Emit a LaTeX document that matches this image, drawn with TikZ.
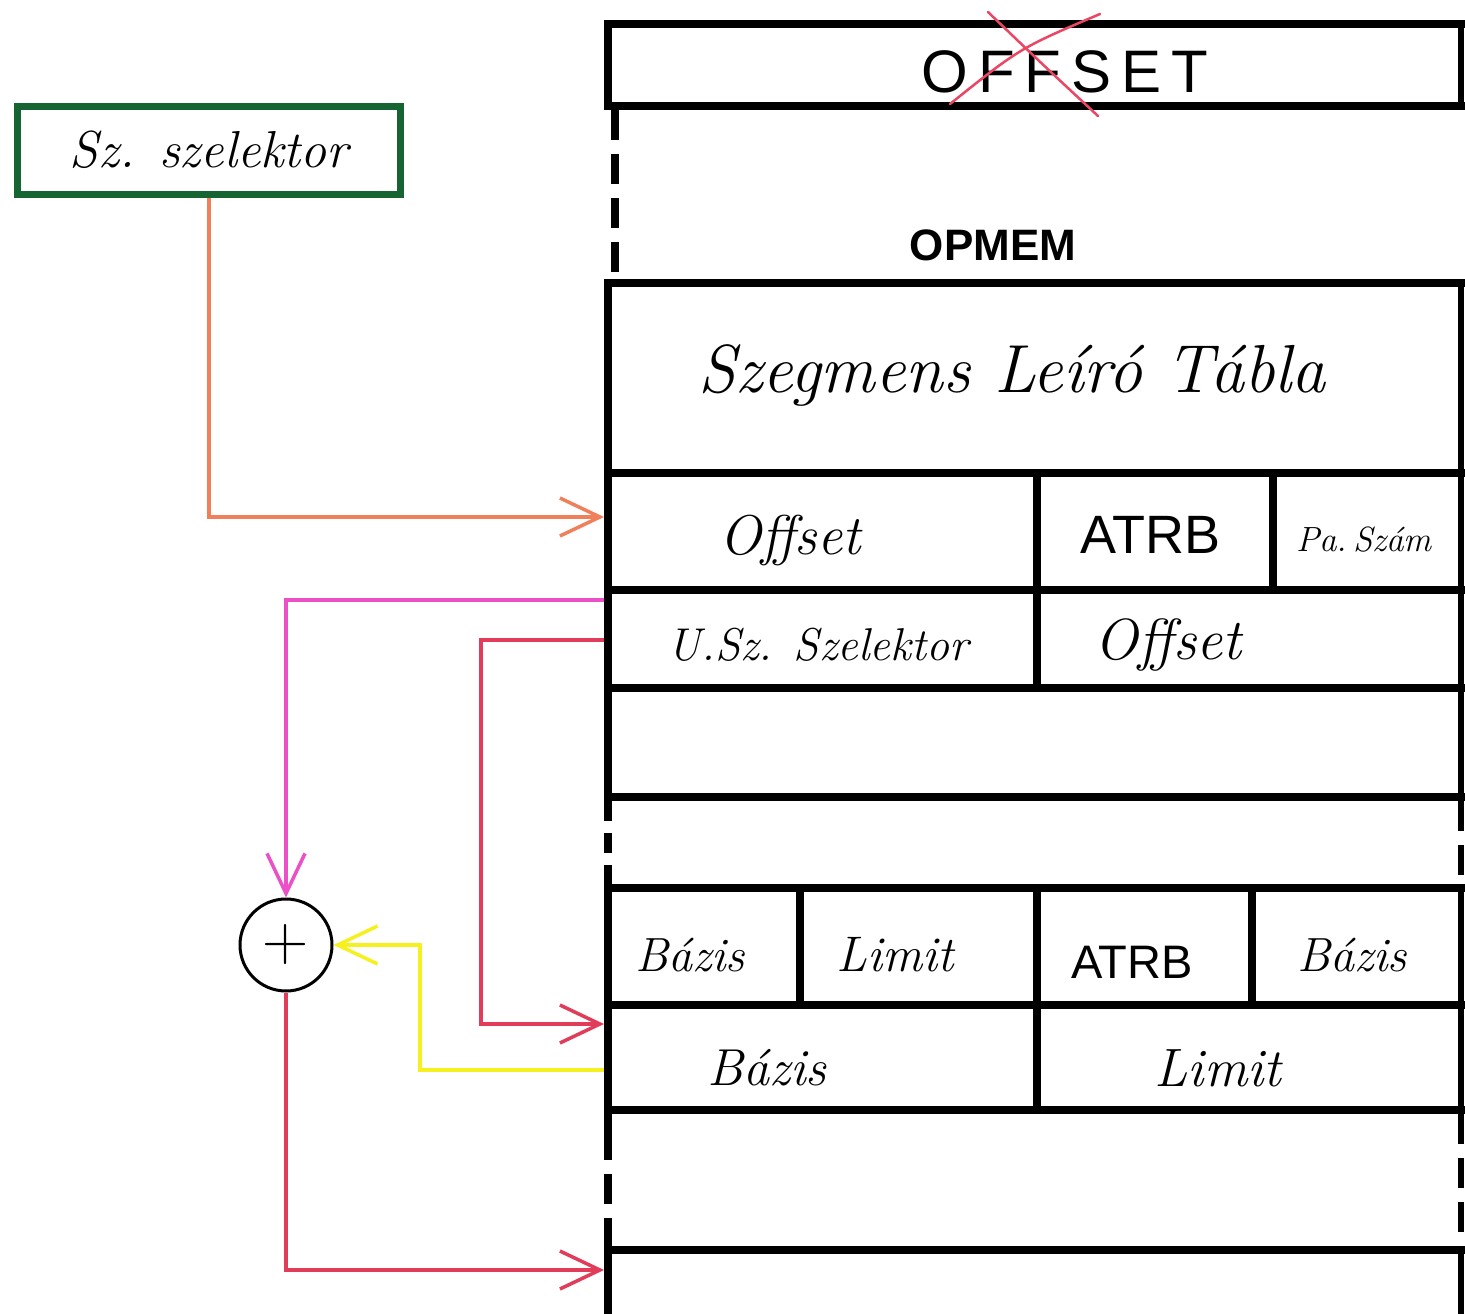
\documentclass[tikz,border=0pt]{standalone}
\usepackage{fontspec}
\newfontfamily\capsf{Liberation Sans}
\usetikzlibrary{arrows.meta}
\definecolor{selgreen}{RGB}{22,100,50}
\definecolor{orline}{RGB}{240,128,90}
\definecolor{mgline}{RGB}{235,80,200}
\definecolor{rdline}{RGB}{225,60,90}
\definecolor{ylline}{RGB}{245,240,30}
\definecolor{xred}{RGB}{235,70,100}
\newcommand\myfs[1]{\fontsize{#1}{#1}\selectfont}
\tikzset{
  memline/.style={line width=8pt},
  memdash/.style={line width=8pt, dash pattern=on 30pt off 14pt},
  divline/.style={line width=8pt},
  conn/.style={line width=3.5pt, -{Straight Barb[length=40pt,width=38pt,line width=3.5pt]}},
  hand/.style={font=\itshape, inner sep=0pt},
  blockcaps/.style={font=\capsf, inner sep=0pt},
}
\begin{document}
\begin{tikzpicture}[x=1pt,y=-1pt]
\useasboundingbox (0,0) rectangle (1465,1314);
\fill[white] (0,0) rectangle (1465,1314);

% horizontal lines of memory
\foreach \yy in {24,106,283,473,590,688,797,888,1005,1110,1250}
  \draw[memline] (604,\yy) -- (1465,\yy);

% left edge
\draw[memline] (608,20) -- (608,110);
\draw[memdash] (615,110) -- (615,283);
\draw[memline] (608,279) -- (608,801);
\draw[memline, dash pattern=on 20pt off 12pt] (608,801) -- (608,888);
\draw[memline] (608,884) -- (608,1130);
\draw[memdash] (608,1130) -- (608,1250);
\draw[memline] (608,1246) -- (608,1314);

% right edge
\draw[line width=6pt] (1461,20) -- (1461,110);
\draw[line width=6pt] (1461,279) -- (1461,801);
\draw[line width=6pt, dash pattern=on 30pt off 14pt] (1461,801) -- (1461,888);
\draw[line width=6pt] (1461,884) -- (1461,1114);
\draw[line width=6pt, dash pattern=on 30pt off 14pt] (1461,1114) -- (1461,1250);
\draw[line width=6pt] (1461,1246) -- (1461,1314);

% vertical dividers
\draw[divline] (1037,473) -- (1037,688);
\draw[divline] (1273,473) -- (1273,590);
\draw[divline] (800,888) -- (800,1005);
\draw[divline] (1037,888) -- (1037,1110);
\draw[divline] (1252,888) -- (1252,1005);

% texts in memory
\node[blockcaps] (toff) at (1065,72) {\myfs{60}O\,F\,F\,S\,E\,T};
\draw[xred, line width=2.5pt, line cap=round] (988,12) .. controls (1040,62) .. (1098,116);
\draw[xred, line width=2.5pt, line cap=round] (950,104) .. controls (1020,48) .. (1100,14);
\node[blockcaps, font=\capsf\bfseries] (topmem) at (993,245) {\myfs{44}OPMEM};
\node[hand] (tsdt) at (1012,375) {\myfs{68}Szegmens Leíró Tábla};
\node[hand] (toff1) at (790,540) {\myfs{56}Offset};
\node[blockcaps] (tatrb1) at (1150,535) {\myfs{54}ATRB};
\node[hand] (tpsz) at (1364,540) {\myfs{35}Pa.\,Szám};
\node[hand] (tusz) at (818,645) {\myfs{46}U.Sz. Szelektor};
\node[hand] (toff2) at (1168,645) {\myfs{58}Offset};
\node[hand] (tb1) at (690,955) {\myfs{48}Bázis};
\node[hand] (tl1) at (895,955) {\myfs{50}Limit};
\node[blockcaps] (tatrb2) at (1132,962) {\myfs{47}ATRB};
\node[hand] (tb2) at (1352,955) {\myfs{48}Bázis};
\node[hand] (tb3) at (767,1068) {\myfs{52}Bázis};
\node[hand] (tl2) at (1218,1068) {\myfs{54}Limit};

% selector box
\node[draw=selgreen, line width=7pt, minimum width=383pt, minimum height=88pt, inner sep=0pt, font=\itshape] (sel) at (209,150) {\myfs{52}Sz. szelektor};

% adder
\node[draw, circle, line width=3pt, minimum size=92pt, inner sep=0pt] (plus) at (286,945) {\myfs{64}+};

% connector anchors on memory
\coordinate (inoff) at (604,517);
\coordinate (outsel) at (604,600);
\coordinate (outusz) at (604,640);
\coordinate (indesc) at (604,1024);
\coordinate (outbase) at (604,1070);
\coordinate (intarget) at (604,1270);
\coordinate (redbend) at (481,830);
\coordinate (ylbend) at (420,1000);

\draw[conn, orline] (sel.south) |- (inoff);
\draw[conn, mgline] (outsel) -| (plus.north);
\draw[conn, rdline] (outusz) -| (redbend) |- (indesc);
\draw[conn, ylline] (outbase) -| (ylbend) |- (plus.east);
\draw[conn, rdline] (plus.south) |- (intarget);
\end{tikzpicture}
\end{document}
